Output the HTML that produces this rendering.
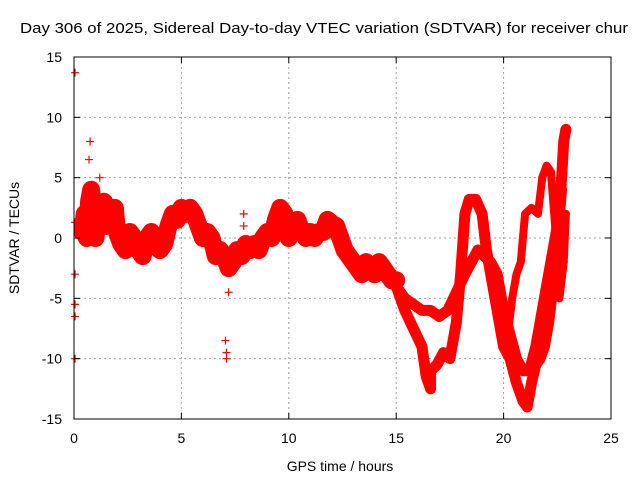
<!DOCTYPE html>
<html><head><meta charset="utf-8"><style>
body{margin:0;background:#fff;}
svg text{font-family:"Liberation Sans",sans-serif;fill:#000;}
</style></head><body>
<svg id="chart" width="640" height="480" xmlns="http://www.w3.org/2000/svg">
<text x="20" y="33" font-size="15" textLength="608" lengthAdjust="spacingAndGlyphs">Day 306 of 2025, Sidereal Day-to-day VTEC variation (SDTVAR) for receiver chur</text>
<g id="grid"></g>
<g id="marks"></g>
<rect x="74" y="57" width="537" height="362" fill="none" stroke="#000" stroke-width="1"/>
<g id="ticks"></g>
<text x="340" y="471" font-size="14" text-anchor="middle">GPS time / hours</text>
<text transform="translate(19,238) rotate(-90)" font-size="14" text-anchor="middle">SDTVAR / TECUs</text>
</svg>
<script>
const xTicks=[0,5,10,15,20,25];
const yTicks=[-15,-10,-5,0,5,10,15];
const mainSeries=[[0.4,0.5],[0.5,2],[0.6,0],[0.7,3],[0.8,4],[0.9,1.5],[1.0,0],[1.1,2.5],[1.2,2],[1.4,3],[1.5,1],[1.7,1.5],[1.9,2.5],[2.0,0.5],[2.2,-0.5],[2.4,-1],[2.6,0.5],[2.8,0],[3.0,-1],[3.2,-1.5],[3.4,0],[3.6,0.5],[3.8,0],[4.0,-1],[4.2,-0.5],[4.4,1],[4.6,2],[4.8,1.5],[5.0,2.5],[5.2,2],[5.4,2.5],[5.6,2],[5.8,1],[6.0,0],[6.2,0.5],[6.4,0],[6.6,-1.5],[6.8,-1],[7.0,-1.5],[7.2,-2.5],[7.4,-2],[7.6,-1],[7.8,-1.5],[8.0,-0.5],[8.2,-1],[8.4,-0.5],[8.6,-1],[8.8,0],[9.0,0.5],[9.2,0],[9.4,1.5],[9.6,2.5],[9.8,2],[10.0,0],[10.2,1],[10.4,1.5],[10.6,0.5],[10.8,0],[11.0,0.5],[11.2,0],[11.4,0.5],[11.6,0.5],[11.8,1.5],[12.0,1.2],[12.2,1],[12.4,0],[12.6,-1],[12.8,-1.5],[13.0,-2],[13.2,-2.5],[13.4,-3],[13.6,-2],[13.8,-2.5],[14.0,-3],[14.2,-2],[14.4,-2.5],[14.6,-3],[14.8,-3.5],[15.0,-3.5]];
const upperBranch=[[15.0,-4],[15.4,-5],[15.8,-5.5],[16.2,-6],[16.6,-6],[17.0,-6.5],[17.4,-6],[17.8,-4.5],[18.2,-3],[18.5,-2],[18.8,-1],[19.1,-1.5],[19.4,-2],[19.7,-3],[20.0,-6],[20.3,-8],[20.6,-10],[20.9,-11],[21.2,-11],[21.5,-9],[21.8,-6],[22.0,-4],[22.2,-2],[22.4,0],[22.6,2],[22.7,4]];
const lowerBranch=[[15.0,-4],[15.4,-6],[15.8,-7.5],[16.2,-9],[16.4,-11.5],[16.6,-12.5],[16.6,-11],[16.9,-10.5],[17.2,-9.5],[17.5,-10],[17.8,-7],[18.0,-3],[18.2,2],[18.4,3.2],[18.7,3.2],[19.0,2],[19.2,-1],[19.4,-3],[19.7,-6],[20.0,-9],[20.3,-10],[20.6,-12],[20.9,-13.5],[21.1,-14],[21.3,-12],[21.5,-10.5],[21.7,-10],[21.9,-9],[22.1,-7],[22.3,-4],[22.5,-1],[22.6,2],[22.7,5],[22.8,8],[22.9,9]];
const loopBranch=[[19.8,-7],[20.2,-8],[20.4,-5],[20.6,-3],[20.8,-2],[21.0,2],[21.3,2.5],[21.6,2],[21.8,5],[22.0,6],[22.2,5.5],[22.4,1],[22.5,-3],[22.6,-5],[22.8,-2],[22.9,2]];
const outliers=[[0.05,13.7],[0.05,1.3],[0.05,-3],[0.05,-5.5],[0.05,-6.5],[0.05,-10],[0.75,8],[0.7,6.5],[1.2,5],[7.05,-8.5],[7.1,-9.5],[7.1,-10],[7.2,-4.5],[7.9,2],[7.9,1]];
const allSeries=[mainSeries,upperBranch,lowerBranch,loopBranch];
const bandWidths=[18,11,11,8];
const NS="http://www.w3.org/2000/svg";
const X0=74,X1=611,Y0=419,Y1=57;
function xs(t){return X0+(t-0)/25*(X1-X0);}
function ys(v){return Y0-(v+15)/30*(Y0-Y1);}
const grid=document.getElementById('grid'),ticks=document.getElementById('ticks'),marks=document.getElementById('marks');
function mk(tag,attrs,parent){const e=document.createElementNS(NS,tag);for(const k in attrs)e.setAttribute(k,attrs[k]);parent.appendChild(e);return e;}
xTicks.forEach(t=>{const x=xs(t);
 if(t>0&&t<25){const g=mk('line',{x1:x,x2:x,y1:Y1,y2:Y0,stroke:'#a0a0a0','stroke-dasharray':'2,3'},grid);
 
 }
 const a=mk('line',{x1:x,x2:x,y1:Y0,y2:Y0-6,stroke:'#000'},ticks);
 
 
 const b=mk('line',{x1:x,x2:x,y1:Y1,y2:Y1+6,stroke:'#000'},ticks);
 
 
 const l=mk('text',{x:x,y:443,'font-size':'14','text-anchor':'middle'},ticks);l.textContent=t;
 
 
});
yTicks.forEach(v=>{const y=ys(v);
 if(v>-15&&v<15){const g=mk('line',{x1:X0,x2:X1,y1:y,y2:y,stroke:'#a0a0a0','stroke-dasharray':'2,3'},grid);
 
 }
 const a=mk('line',{x1:X0,x2:X0+6,y1:y,y2:y,stroke:'#000'},ticks);
 
 
 const b=mk('line',{x1:X1,x2:X1-6,y1:y,y2:y,stroke:'#000'},ticks);
 
 
 const l=mk('text',{x:62,y:y+5,'font-size':'14','text-anchor':'end'},ticks);l.textContent=v;
 
 
});
function plus(t,v){const x=xs(t),y=ys(v);
 const p=mk('path',{d:`M${x-4},${y}H${x+4}M${x},${y-4}V${y+4}`,stroke:'#f00','stroke-width':'1.2',fill:'none'},marks);
 
 
}
allSeries.forEach((s,i)=>{
 const pl=mk('polyline',{points:s.map(p=>xs(p[0])+','+ys(p[1])).join(' '),fill:'none',stroke:'#f00','stroke-width':bandWidths[i],'stroke-linejoin':'round','stroke-linecap':'round'},marks);
 
 
 s.forEach(p=>plus(p[0],p[1]));
});
outliers.forEach(p=>plus(p[0],p[1]));
</script>
</body></html>
